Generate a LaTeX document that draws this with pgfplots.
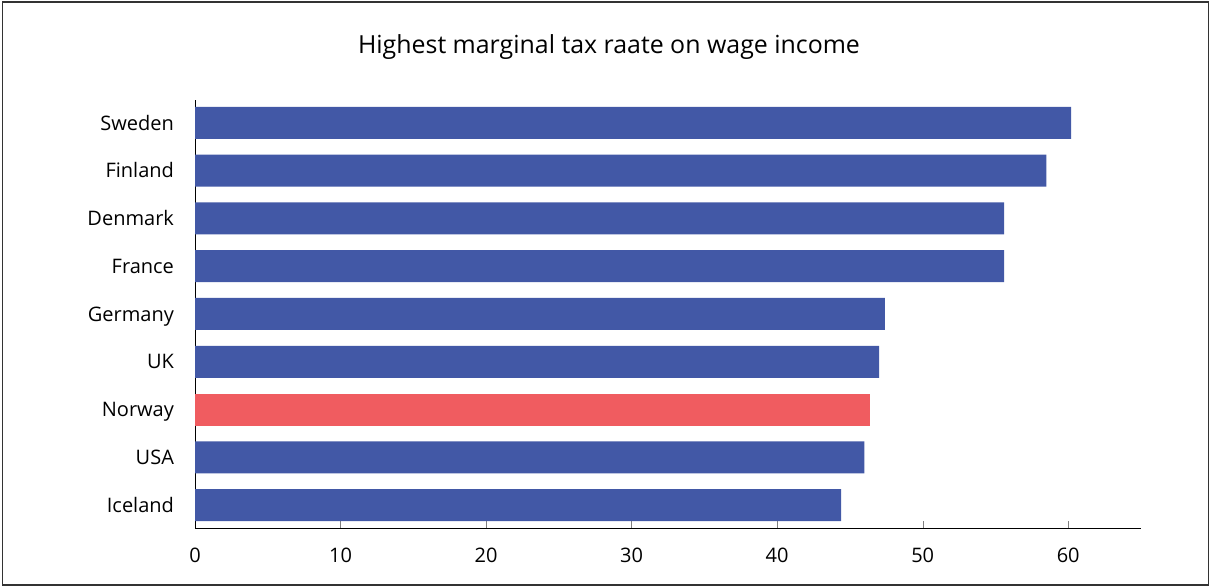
\documentclass[border=0pt]{standalone}
\usepackage{pgfplots}
\pgfplotsset{compat=1.18}
\usepackage{fontspec}
\setmainfont{Open Sans}
\definecolor{barblue}{RGB}{66,88,166}
\definecolor{barred}{RGB}{240,92,96}
\begin{document}
\begin{tikzpicture}
\useasboundingbox (0pt,0pt) rectangle (605pt,293.5pt);
\draw[line width=0.8pt, black!80] (1.3pt,1.1pt) rectangle (604.3pt,292.4pt);
\node[font=\fontsize{12.45}{14}\selectfont] at (304.5pt,269.8pt) {Highest marginal tax raate on wage income};
\begin{axis}[
  at={(97.5pt,29.5pt)}, anchor=south west,
  scale only axis, width=473pt, height=214pt,
  xmin=0, xmax=65, ymin=-0.48, ymax=8.48,
  axis lines*=left,
  xbar, bar width=16pt, bar shift=0pt,
  ytick={0,...,8},
  yticklabels={Iceland,USA,Norway,UK,Germany,France,Denmark,Finland,Sweden},
  xtick={0,10,...,60},
  tick align=inside, major tick length=3.5pt,
  ytick style={draw=none},
  every tick label/.append style={font=\fontsize{10}{12}\selectfont},
  xticklabel style={yshift=-6.5pt},
  yticklabel style={xshift=-7pt, text height=7.1pt, text depth=0pt},
  /pgf/number format/assume math mode=true,
]
\addplot[fill=barblue, draw=none] coordinates {
  (44.4,0) (46.0,1) (47.0,3) (47.4,4) (55.6,5) (55.6,6) (58.5,7) (60.2,8)
};
\addplot[fill=barred, draw=none] coordinates {(46.4,2)};
\end{axis}
\end{tikzpicture}
\end{document}
